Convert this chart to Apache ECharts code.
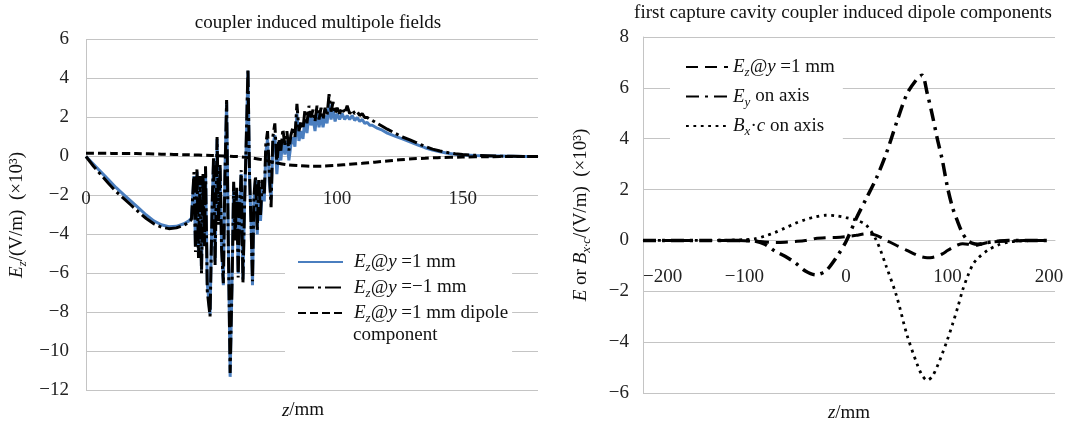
<!DOCTYPE html>
<html>
<head>
<meta charset="utf-8">
<script src="https://cdn.jsdelivr.net/npm/echarts@6/dist/echarts.min.js"></script>
<style>
  html, body { margin: 0; padding: 0; background: #fff; }
  #chart { width: 1071px; height: 426px; }
</style>
</head>
<body>
<div id="chart"></div>
<script>
// ---- left panel: coupler induced multipole fields (z in mm, E in 10^3 V/m)
var zLeft = [
  0, 3, 6, 9, 12, 15, 18, 21, 24, 27, 30, 33, 36, 39, 41, 42,
  43, 43.6, 44.2, 44.8, 45.4, 46, 46.6, 47.2, 47.6, 48.3,
  49.4, 50.2, 50.8, 51.4, 52.2, 52.8, 53.4, 54, 54.7, 55.3,
  56, 56.6, 57.4, 58.2, 58.8, 59.4, 60, 60.6, 61.2, 61.8,
  62.5, 63.2, 63.8, 64.5, 65.1, 65.7, 66.3, 66.9, 67.5, 68.2,
  68.8, 69.5, 70.2, 71, 71.6, 72.3, 73, 73.7, 74.4, 75.2,
  76,
  76.8, 77.6, 78.4, 79.2, 80, 80.8, 81.6, 82.4, 83.2, 84,
  84.8, 85.6, 86.4, 87.2, 88, 88.8, 89.6, 90.4, 91.2, 92,
  92.8, 93.6, 94.4, 95.2, 96, 96.8, 97.6, 98.4, 99.2, 100,
  101, 102, 103, 104, 105, 106, 107, 108, 109, 110, 111, 112, 113, 114,
  116, 118, 120, 123, 126, 129, 132, 135, 138, 141, 144, 147, 150, 155, 160, 165, 170, 175, 180
];
var ezPlus = [
  0, -0.4, -0.8, -1.2, -1.6, -1.95, -2.3, -2.65, -3.0, -3.3, -3.5, -3.6, -3.58, -3.45, -3.3, -3.15,
  -1.0, -4.6, -0.8, -5.0, -1.2, -5.8, -1.0, -4.2, -0.7, -6.5,
  -8.1, -2.5, -0.3, -5.4, 0.9, -3.2, -0.6, -4.5, -6.6, -1.0,
  2.8, -3.5, -11.3, -6.0, -1.5, -4.0, -1.8, -6.0, -2.5, -0.9,
  -6.3, -2.0, 0.5, 4.4, -1.0, -3.2, -6.6, -2.2, -1.2, -4.0,
  -1.3, -3.3, -1.6, -2.3, 0.2, 0.9, -1.3, -2.2, 0.5, 1.1,
  -0.9,
  0.4, -0.2, 0.9, 0.1, 0.8, -0.2, 0.6, 1.0, 0.5, 2.2,
  0.8, 1.3, 0.9, 1.9, 1.2, 2.2, 1.6, 2.0, 1.3, 2.3,
  1.5, 2.1, 1.5, 2.1, 1.7, 2.7, 1.9, 2.4, 1.8, 2.2,
  1.9, 2.2, 1.9, 2.1, 1.9, 2.1, 1.85, 2.0, 1.8, 1.9, 1.7, 1.75, 1.6, 1.6,
  1.45, 1.35, 1.2, 1.05, 0.9, 0.75, 0.6, 0.45, 0.33, 0.24, 0.17, 0.12, 0.08, 0.05, 0.03, 0.02, 0.01, 0, 0
];
var ezMinus = [
  0, -0.5, -0.95, -1.38, -1.8, -2.15, -2.5, -2.85, -3.18, -3.45, -3.62, -3.7, -3.66, -3.52, -3.38, -3.22,
  -0.8, -4.9, -0.6, -5.2, -1.0, -6.0, -0.9, -4.6, -0.5, -6.9,
  -8.2, -2.8, 0.0, -5.6, 1.0, -3.5, -0.4, -4.8, -6.5, -1.2,
  2.9, -3.8, -11.1, -6.3, -1.3, -4.3, -1.6, -6.2, -2.7, -0.7,
  -6.5, -2.2, 0.8, 4.5, -0.8, -3.4, -6.4, -2.0, -1.0, -3.8,
  -1.1, -3.0, -1.2, -2.0, 0.6, 1.3, -0.8, -2.6, 1.0, 1.7,
  -0.4,
  0.9, 0.3, 1.4, 0.6, 1.3, 0.3, 1.1, 1.5, 1.0, 2.7,
  1.3, 1.8, 1.4, 2.4, 1.7, 2.6, 2.0, 2.4, 1.8, 2.6,
  1.9, 2.5, 1.9, 2.5, 2.1, 3.2, 2.3, 2.8, 2.2, 2.5,
  2.2, 2.5, 2.2, 2.6, 2.2, 2.4, 2.2, 2.3, 2.1, 2.2, 2.0, 2.0, 1.9, 1.85,
  1.7, 1.55, 1.4, 1.2, 1.0, 0.85, 0.68, 0.52, 0.38, 0.28, 0.2, 0.14, 0.1, 0.06, 0.04, 0.02, 0.01, 0, 0
];
var zDipole = [0, 10, 20, 30, 40, 50, 55, 60, 65, 70, 75, 80, 85, 90, 95, 100, 105, 110, 115, 120, 125, 130, 135, 140, 150, 160, 170, 180];
var ezDipole = [0.17, 0.16, 0.15, 0.12, 0.09, 0.05, 0.03, 0.0, -0.06, -0.16, -0.3, -0.42, -0.47, -0.5, -0.49, -0.45, -0.4, -0.35, -0.29, -0.23, -0.17, -0.12, -0.09, -0.06, -0.03, -0.01, 0, 0];
var leftTickLabels = [0, 100, 150];

// ---- right panel: first capture cavity dipole components
var zRight = [-200, -180, -160, -140, -120, -100, -90, -80, -70, -60, -50, -40, -30, -20, -10,
  0, 10, 20, 30, 40, 50, 60, 70, 75, 80, 85, 90, 95, 100, 105, 110, 115, 120, 125, 130,
  140, 150, 160, 170, 180, 190, 200];
var ezRight = [0, 0, 0, 0, 0, -0.01, -0.03, -0.06, -0.08, -0.07, -0.04, 0.0, 0.08, 0.11, 0.12,
  0.15, 0.2, 0.26, 0.2, 0.0, -0.2, -0.39, -0.58, -0.65, -0.68, -0.67, -0.62, -0.53, -0.4, -0.28, -0.18, -0.13, -0.15, -0.2, -0.18,
  -0.08, -0.04, -0.02, -0.01, 0, 0, 0];
var eyAxis = [0, 0, 0, 0, 0, 0, -0.02, -0.15, -0.42, -0.62, -0.88, -1.2, -1.35, -1.2, -0.7,
  -0.05, 0.85, 1.65, 2.45, 3.45, 4.65, 5.75, 6.35, 6.5, 5.8, 4.95, 4.0, 3.15, 2.1, 1.3, 0.75, 0.27, 0.0, -0.12, -0.15,
  -0.08, -0.03, 0, 0, 0, 0, 0];
var bxcAxis = [0, 0, 0, 0, 0.01, 0.03, 0.06, 0.17, 0.31, 0.49, 0.67, 0.82, 0.93, 0.99, 0.97,
  0.9, 0.8, 0.6, 0.0, -1.05, -2.2, -3.7, -4.85, -5.3, -5.5, -5.35, -4.95, -4.45, -3.9, -3.3, -2.65, -1.95, -1.4, -0.95, -0.7,
  -0.38, -0.18, -0.07, -0.03, -0.01, 0, 0];
var rightTickLabels = [-200, -100, 0, 100, 200];

var serif = '"Liberation Serif", "Times New Roman", serif';
var ink = '#111';
var gridGray = '#c4c4c4';

function pairs(xs, ys) {
  var out = [];
  for (var i = 0; i < xs.length; i++) out.push([xs[i], ys[i]]);
  return out;
}
function num(v) {
  return v < 0 ? '\u2212' + Math.abs(v) : String(v);
}

// italic, normal, subscript
var rich = {
  i: { fontFamily: serif, fontStyle: 'italic', fontSize: 19, lineHeight: 22, color: ink },
  n: { fontFamily: serif, fontSize: 19, lineHeight: 22, color: ink },
  s: { fontFamily: serif, fontStyle: 'italic', fontSize: 13, lineHeight: 10, height: 10, verticalAlign: 'bottom', color: ink }
};

var legendNames = {
  'Ez@y=1 mm': '{i|E}{s|z}{i|@y}{n| =1 mm}',
  'Ez@y=-1 mm': '{i|E}{s|z}{i|@y}{n| =\u22121 mm}',
  'Ez dipole': '{i|E}{s|z}{i|@y}{n| =1 mm dipole}',
  'Ez@y=1 mm cavity': '{i|E}{s|z}{i|@y}{n| =1 mm}',
  'Ey on axis': '{i|E}{s|y}{n| on axis}',
  'Bxc on axis': '{i|B}{s|x}{n|\u00b7}{i|c}{n| on axis}'
};
function legendFmt(name) { return legendNames[name]; }

function valueAxisLabel(margin) {
  return { margin: margin, fontSize: 19, fontFamily: serif, color: '#222', formatter: num };
}

var chart = echarts.init(document.getElementById('chart'), null, { renderer: 'canvas' });
chart.setOption({
  animation: false,
  backgroundColor: '#fff',
  title: [
    { text: 'coupler induced multipole fields', left: 318, top: 23, padding: 0,
      textAlign: 'center', textVerticalAlign: 'middle',
      textStyle: { fontFamily: serif, fontSize: 19, fontWeight: 'normal', color: ink } },
    { text: 'first capture cavity coupler induced dipole components', left: 843, top: 13, padding: 0,
      textAlign: 'center', textVerticalAlign: 'middle',
      textStyle: { fontFamily: serif, fontSize: 19, fontWeight: 'normal', color: ink } }
  ],
  grid: [
    { left: 86, top: 39.5, width: 452, height: 351, containLabel: false, outerBoundsMode: 'none' },
    { left: 643, top: 37, width: 412, height: 356, containLabel: false, outerBoundsMode: 'none' }
  ],
  xAxis: [
    // axis moved up from the grid bottom to the z = 0 line (6/18 of the height from the top)
    { gridIndex: 0, type: 'value', min: 0, max: 180, interval: 50, offset: -234,
      axisLine: { onZero: false, lineStyle: { color: gridGray } },
      axisTick: { show: false }, splitLine: { show: false },
      axisLabel: { margin: 33, fontSize: 19, fontFamily: serif, color: '#222',
        formatter: function (v) { return leftTickLabels.indexOf(v) >= 0 ? num(v) : ''; } },
      name: '{i|z}{n|/mm}', nameLocation: 'middle', nameGap: 243,
      nameTextStyle: { rich: rich, padding: [0, 18, 0, 0] } },
    { gridIndex: 1, type: 'value', min: -200, max: 206, interval: 100, offset: -152.6,
      axisLine: { onZero: false, lineStyle: { color: gridGray } },
      axisTick: { show: false }, splitLine: { show: false },
      axisLabel: { margin: 27, fontSize: 19, fontFamily: serif, color: '#222', alignMinLabel: 'left',
        formatter: function (v) { return rightTickLabels.indexOf(v) >= 0 ? num(v) : ''; } },
      name: '{i|z}{n|/mm}', nameLocation: 'middle', nameGap: 162,
      nameTextStyle: { rich: rich } }
  ],
  yAxis: [
    { gridIndex: 0, type: 'value', min: -12, max: 6, interval: 2,
      axisLine: { show: true, onZero: false, lineStyle: { color: gridGray } },
      axisTick: { show: false },
      splitLine: { lineStyle: { color: gridGray } },
      axisLabel: valueAxisLabel(17),
      name: '{i|E}{s|z}{n|/(V/m)  (\u00d710\u00b3)}', nameLocation: 'middle', nameGap: 58, nameRotate: 90,
      nameTextStyle: { rich: rich } },
    { gridIndex: 1, type: 'value', min: -6, max: 8, interval: 2,
      axisLine: { show: true, onZero: false, lineStyle: { color: gridGray } },
      axisTick: { show: false },
      splitLine: { lineStyle: { color: gridGray } },
      axisLabel: valueAxisLabel(14),
      name: '{i|E}{n| or }{i|B}{s|x\u00b7c}{n|/(V/m)  (\u00d710\u00b3)}', nameLocation: 'middle', nameGap: 51, nameRotate: 90,
      nameTextStyle: { rich: rich } }
  ],
  legend: [
    { data: ['Ez@y=1 mm', 'Ez@y=-1 mm', 'Ez dipole'], orient: 'vertical',
      left: 285, top: 245, itemWidth: 45, itemHeight: 14, itemGap: 2,
      padding: [6, 4, 28, 12], backgroundColor: '#fff', selectedMode: false,
      itemStyle: { opacity: 0 },
      formatter: legendFmt, textStyle: { rich: rich, lineHeight: 22, padding: [0, 0, 0, 6] } },
    { data: ['Ez@y=1 mm cavity', 'Ey on axis', 'Bxc on axis'], orient: 'vertical',
      left: 670, top: 52, itemWidth: 42, itemHeight: 14, itemGap: 6,
      padding: [4, 8, 2, 15], backgroundColor: '#fff', selectedMode: false,
      itemStyle: { opacity: 0 },
      formatter: legendFmt, textStyle: { rich: rich, lineHeight: 22 } }
  ],
  graphic: [
    { type: 'text', left: 353, top: 326, z: 100,
      style: { text: 'component', font: '19px ' + serif, fill: ink } }
  ],
  series: [
    { name: 'Ez@y=1 mm', type: 'line', xAxisIndex: 0, yAxisIndex: 0,
      data: pairs(zLeft, ezPlus), symbol: 'none', showSymbol: false,
      itemStyle: { color: '#4a7ebf' }, lineStyle: { color: '#4a7ebf', width: 3 } },
    { name: 'Ez@y=-1 mm', type: 'line', xAxisIndex: 0, yAxisIndex: 0,
      data: pairs(zLeft, ezMinus), symbol: 'none', showSymbol: false,
      itemStyle: { color: '#000' }, lineStyle: { color: '#000', width: 3, type: [16, 4, 3, 4] } },
    { name: 'Ez dipole', type: 'line', xAxisIndex: 0, yAxisIndex: 0, smooth: 0.3,
      data: pairs(zDipole, ezDipole), symbol: 'none', showSymbol: false,
      itemStyle: { color: '#000' }, lineStyle: { color: '#000', width: 3, type: [8, 4] } },

    { name: 'Ez@y=1 mm cavity', type: 'line', xAxisIndex: 1, yAxisIndex: 1, smooth: 0.3,
      data: pairs(zRight, ezRight), symbol: 'none', showSymbol: false,
      itemStyle: { color: '#000' }, lineStyle: { color: '#000', width: 3, type: [12, 7] } },
    { name: 'Ey on axis', type: 'line', xAxisIndex: 1, yAxisIndex: 1, smooth: 0.3,
      data: pairs(zRight, eyAxis), symbol: 'none', showSymbol: false,
      itemStyle: { color: '#000' }, lineStyle: { color: '#000', width: 3.5, type: [13, 6, 3, 6] } },
    { name: 'Bxc on axis', type: 'line', xAxisIndex: 1, yAxisIndex: 1, smooth: 0.3,
      data: pairs(zRight, bxcAxis), symbol: 'none', showSymbol: false,
      itemStyle: { color: '#000' }, lineStyle: { color: '#000', width: 2.8, type: [2.8, 4.6] } }
  ]
});
</script>
</body>
</html>
